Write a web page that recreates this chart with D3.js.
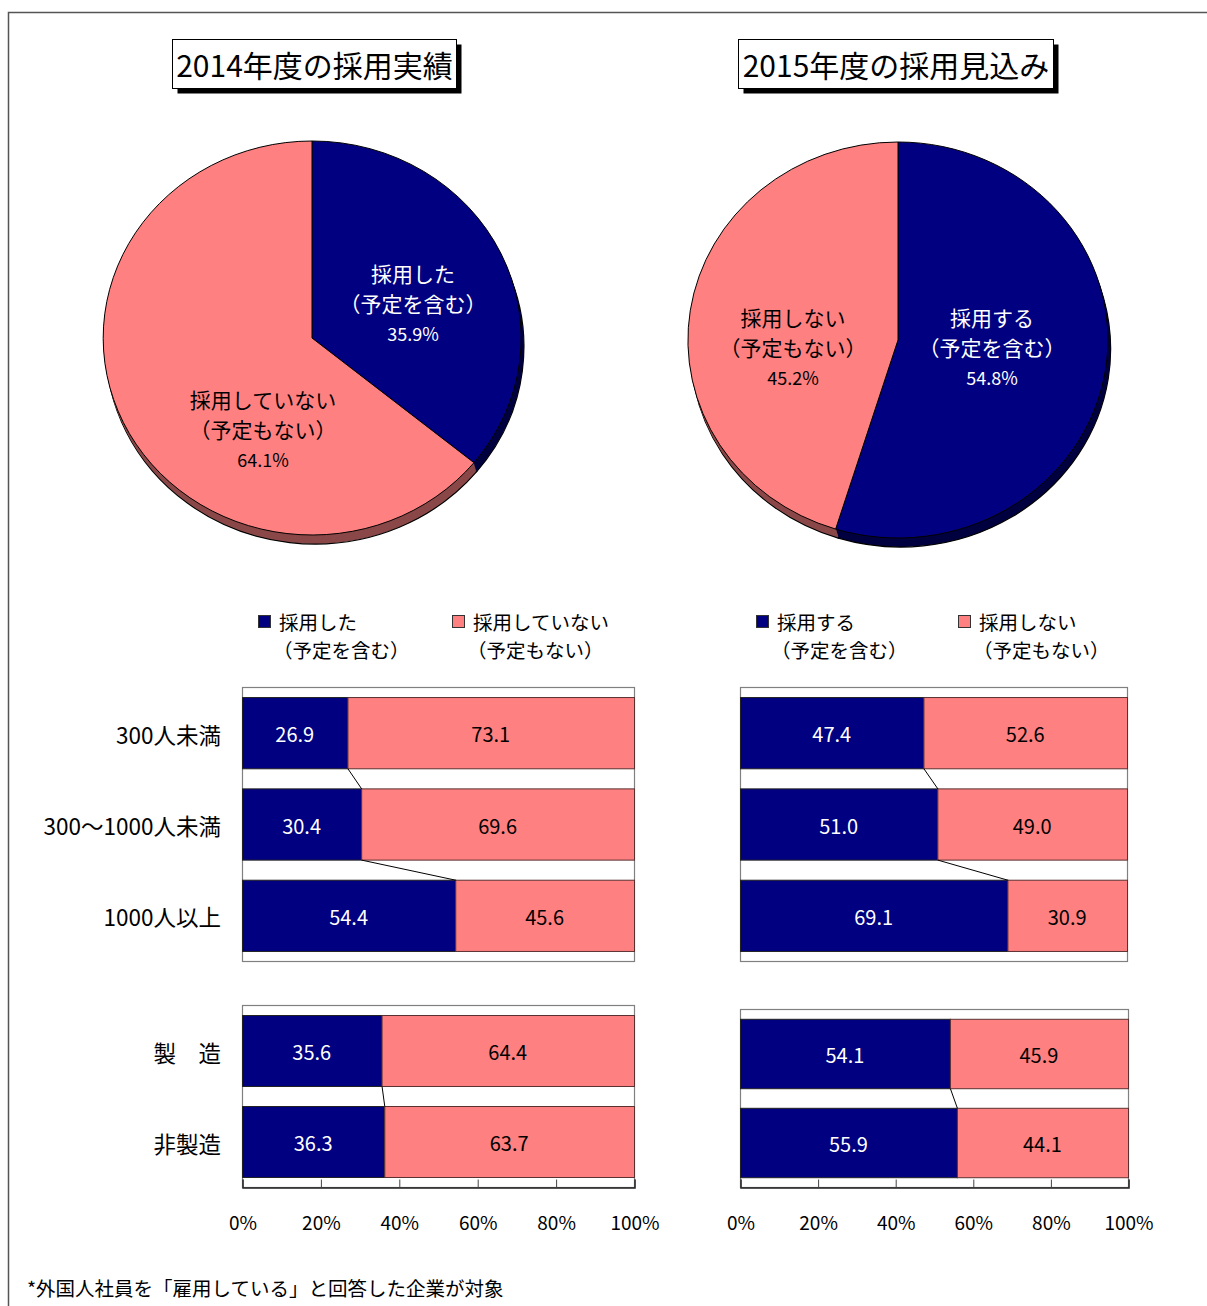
<!DOCTYPE html>
<html>
<head>
<meta charset="utf-8">
<script src="https://cdn.jsdelivr.net/npm/d3@7"></script>
<style>
  body { margin: 0; background: #fff; }
  text { font-family: "Noto Sans CJK JP", "Noto Sans", sans-serif; }
</style>
</head>
<body>
<div id="chart"></div>
<script>
// pie data
var pieTitles = ["2014年度の採用実績", "2015年度の採用見込み"];
var pie2014Names = [["採用した", "（予定を含む）"], ["採用していない", "（予定もない）"]];
var pie2014Values = [35.9, 64.1];
var pie2015Names = [["採用する", "（予定を含む）"], ["採用しない", "（予定もない）"]];
var pie2015Values = [54.8, 45.2];

// bar data
var sizeCats = ["300人未満", "300～1000人未満", "1000人以上"];
var size2014Yes = [26.9, 30.4, 54.4];
var size2014No = [73.1, 69.6, 45.6];
var size2015Yes = [47.4, 51.0, 69.1];
var size2015No = [52.6, 49.0, 30.9];

var indCats = ["製　造", "非製造"];
var ind2014Yes = [35.6, 36.3];
var ind2014No = [64.4, 63.7];
var ind2015Yes = [54.1, 55.9];
var ind2015No = [45.9, 44.1];

var tickValues = [0, 20, 40, 60, 80, 100];
var footnote = "*外国人社員を「雇用している」と回答した企業が対象";

var NAVY = "#000080", PINK = "#FF8080";
var NAVY_DARK = "#000040", PINK_DARK = "#8B4848";

var W = 1207, H = 1306;
var svg = d3.select("#chart").append("svg")
    .attr("width", W).attr("height", H);

// outer frame
svg.append("path")
    .attr("d", "M8.5," + H + "V12.5H" + W)
    .attr("fill", "none")
    .attr("stroke", "#555")
    .attr("stroke-width", 1.5);

// title boxes
function title_box(x, y, w, h, label) {
    svg.append("rect").attr("x", x + 5).attr("y", y + 5).attr("width", w).attr("height", h)
        .attr("fill", "#000");
    svg.append("rect").attr("x", x).attr("y", y).attr("width", w).attr("height", h)
        .attr("fill", "#fff").attr("stroke", "#000").attr("stroke-width", 1);
    svg.append("text").attr("x", x + w / 2).attr("y", y + h / 2)
        .attr("text-anchor", "middle").attr("dominant-baseline", "central")
        .style("font-size", "30px").text(label);
}
title_box(172.5, 39.5, 284, 49, pieTitles[0]);
title_box(738.5, 39.5, 315, 49, pieTitles[1]);

// pies
function draw_pie(cx, cy, rx, ry, values, names, labelPos) {
    var pie = d3.pie().sort(null).value(function(d) { return d; })
        .startAngle(0).endAngle(2 * Math.PI);
    var arcs = pie(values);
    var arc = d3.arc().innerRadius(0).outerRadius(1);
    var fills = [NAVY, PINK], darks = [NAVY_DARK, PINK_DARK];
    var depth = 9;

    // side (3d) layers
    for (var k = depth; k >= 1; k--) {
        var g = svg.append("g")
            .attr("transform", "translate(" + (cx + k * 0.3) + "," + (cy + k) + ") scale(" + rx + "," + ry + ")");
        g.selectAll("path").data(arcs).enter().append("path")
            .attr("d", arc)
            .attr("fill", function(d, i) { return darks[i]; })
            .attr("stroke", k == depth ? "#000" : "none")
            .attr("stroke-width", 1.2)
            .attr("vector-effect", "non-scaling-stroke");
    }
    var top = svg.append("g")
        .attr("transform", "translate(" + cx + "," + cy + ") scale(" + rx + "," + ry + ")");
    top.selectAll("path").data(arcs).enter().append("path")
        .attr("d", arc)
        .attr("fill", function(d, i) { return fills[i]; })
        .attr("stroke", "#000")
        .attr("stroke-width", 1)
        .attr("vector-effect", "non-scaling-stroke");

    arcs.forEach(function(a, i) {
        var p = labelPos[i];
        var col = i == 0 ? "#fff" : "#000";
        var t = svg.append("g").attr("fill", col);
        t.append("text").attr("x", p[0]).attr("y", p[1])
            .attr("text-anchor", "middle").attr("dominant-baseline", "central")
            .style("font-size", "21px").text(names[i][0]);
        t.append("text").attr("x", p[0]).attr("y", p[1] + 30)
            .attr("text-anchor", "middle").attr("dominant-baseline", "central")
            .style("font-size", "21px").text(names[i][1]);
        t.append("text").attr("x", p[0]).attr("y", p[1] + 60)
            .attr("text-anchor", "middle").attr("dominant-baseline", "central")
            .style("font-size", "18px").text(values[i].toFixed(1) + "%");
    });
}
draw_pie(312, 338, 209, 197, pie2014Values, pie2014Names, [[413, 273], [263, 399]]);
draw_pie(898, 340, 210, 198, pie2015Values, pie2015Names, [[992, 317], [793, 317]]);

// legends
function legend(x0, names, gap) {
    names.forEach(function(n, i) {
        var x = x0 + i * gap;
        svg.append("rect").attr("x", x + 0.5).attr("y", 615.5).attr("width", 12).attr("height", 12)
            .attr("fill", i == 0 ? NAVY : PINK).attr("stroke", "#333");
        svg.append("text").attr("x", x + 21).attr("y", 621)
            .attr("dominant-baseline", "central").style("font-size", "19.5px").text(n[0]);
        svg.append("text").attr("x", x + 15).attr("y", 649.5)
            .attr("dominant-baseline", "central").style("font-size", "19.5px").text(n[1]);
    });
}
legend(258, pie2014Names, 194);
legend(756, pie2015Names, 202);

// bar groups
function bar_group(x0, x1, y0, y1, cats, yes, no, showLabels, showAxis) {
    var x = d3.scaleLinear().domain([0, 100]).range([x0, x1]);
    var y = d3.scaleBand().domain(cats).range([y0, y1])
        .paddingInner(0.22).paddingOuter(0.11);
    var bw = y.bandwidth();

    svg.append("rect").attr("x", x0 + 0.5).attr("y", y0 + 0.5)
        .attr("width", x1 - x0).attr("height", y1 - y0)
        .attr("fill", "#fff").attr("stroke", "#808080").attr("stroke-width", 1.2);

    var g = svg.append("g");
    g.selectAll(".yes").data(cats).enter().append("rect")
        .attr("x", x(0) + 0.5).attr("y", function(d) { return y(d) + 0.5; })
        .attr("width", function(d, i) { return x(yes[i]) - x(0); })
        .attr("height", bw)
        .attr("fill", NAVY).attr("stroke", "#222").attr("stroke-width", 1);
    g.selectAll(".no").data(cats).enter().append("rect")
        .attr("x", function(d, i) { return x(yes[i]) + 0.5; })
        .attr("y", function(d) { return y(d) + 0.5; })
        .attr("width", function(d, i) { return x(yes[i] + no[i]) - x(yes[i]); })
        .attr("height", bw)
        .attr("fill", PINK).attr("stroke", "#5a3030").attr("stroke-width", 1);

    // connectors
    for (var i = 0; i < cats.length - 1; i++) {
        g.append("line")
            .attr("x1", x(yes[i]) + 0.5).attr("y1", y(cats[i]) + bw + 0.5)
            .attr("x2", x(yes[i + 1]) + 0.5).attr("y2", y(cats[i + 1]) + 0.5)
            .attr("stroke", "#000").attr("stroke-width", 1);
    }

    // values
    cats.forEach(function(c, i) {
        g.append("text").attr("x", (x(0) + x(yes[i])) / 2).attr("y", y(c) + bw / 2 + 1)
            .attr("text-anchor", "middle").attr("dominant-baseline", "central")
            .attr("fill", "#fff").style("font-size", "20px").text(yes[i].toFixed(1));
        g.append("text").attr("x", (x(yes[i]) + x(yes[i] + no[i])) / 2).attr("y", y(c) + bw / 2 + 1)
            .attr("text-anchor", "middle").attr("dominant-baseline", "central")
            .attr("fill", "#000").style("font-size", "20px").text(no[i].toFixed(1));
    });

    if (showLabels) {
        cats.forEach(function(c) {
            svg.append("text").attr("x", 221).attr("y", y(c) + bw / 2 + 1)
                .attr("text-anchor", "end").attr("dominant-baseline", "central")
                .style("font-size", "22.5px").text(c);
        });
    }

    if (showAxis) {
        var ax = svg.append("g")
            .attr("transform", "translate(0.5," + (y1 + 0.5) + ")")
            .call(d3.axisBottom(x).tickValues(tickValues).tickSize(-8).tickPadding(29)
                .tickFormat(function(d) { return d + "%"; }));
        ax.select(".domain").attr("stroke", "#222").attr("stroke-width", 1.5);
        ax.selectAll(".tick line").attr("stroke", "#444");
        ax.selectAll("text").style("font-size", "19px").attr("fill", "#000")
            .style("font-family", "\"Noto Sans CJK JP\", sans-serif");
    }
}

bar_group(242, 634, 687, 961, sizeCats, size2014Yes, size2014No, true, false);
bar_group(242, 634, 1005, 1187, indCats, ind2014Yes, ind2014No, true, true);
bar_group(740, 1127, 687, 961, sizeCats, size2015Yes, size2015No, false, false);
bar_group(740, 1128, 1009, 1187, indCats, ind2015Yes, ind2015No, false, true);

// footnote
svg.append("text").attr("x", 27).attr("y", 1287)
    .attr("dominant-baseline", "central").style("font-size", "19.5px").text(footnote);
</script>
</body>
</html>
